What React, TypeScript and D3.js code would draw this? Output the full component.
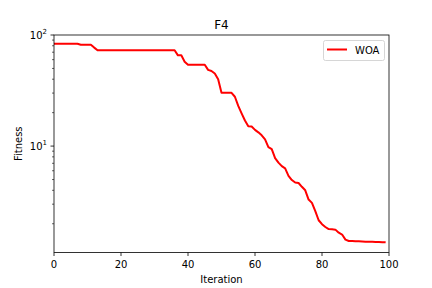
import React from "react";
import * as d3 from "d3";

const title = "F4";
const xLabel = "Iteration";
const yLabel = "Fitness";
const seriesName = "WOA";
const xTicks = [0, 20, 40, 60, 80, 100];
const yMajorTicks = [10, 100];
const yMajorLabels = ["1", "2"];
const yMinorTicks = [2, 3, 4, 5, 6, 7, 8, 9, 20, 30, 40, 50, 60, 70, 80, 90];
const xDomain = [0, 100];
const yDomain = [1.102, 100];

const woa = [
  83.5, 83.5, 83.5, 83.5, 83.5, 83.5, 83.5, 83.5, 81.8, 81.8,
  81.8, 81.8, 77.0, 72.8, 72.8, 72.8, 72.8, 72.8, 72.8, 72.8,
  72.8, 72.8, 72.8, 72.8, 72.8, 72.8, 72.8, 72.8, 72.8, 72.8,
  72.8, 72.8, 72.8, 72.8, 72.8, 72.8, 72.8, 65.6, 65.6, 57.5,
  54.0, 54.0, 54.0, 54.0, 54.0, 54.0, 48.5, 47.4, 45.0, 40.0,
  30.2, 30.2, 30.2, 30.2, 27.8, 23.0, 19.7, 17.0, 15.1, 15.0,
  14.0, 13.3, 12.5, 11.5, 9.8, 9.4, 7.8, 7.1, 6.6, 6.3,
  5.4, 4.95, 4.7, 4.65, 4.3, 4.0, 3.3, 3.08, 2.6, 2.15,
  1.98, 1.87, 1.79, 1.78, 1.77, 1.66, 1.6, 1.44, 1.40, 1.40,
  1.39, 1.39, 1.385, 1.38, 1.38, 1.375, 1.37, 1.37, 1.365, 1.36,
];

export default function App() {
  const W = 432, H = 288;
  const left = 54, right = 389, top = 35, bottom = 252.5;
  const x = d3.scaleLinear().domain(xDomain).range([left, right]);
  const y = d3.scaleLog().domain(yDomain).range([bottom, top]);
  const line = d3.line<number>().x((_, i) => x(i)).y((d) => y(d));
  const font = "DejaVu Sans, sans-serif";
  return (
    <svg width={W} height={H} style={{ position: "absolute", left: 0, top: 0 }} fontFamily={font}>
      <rect x={0} y={0} width={W} height={H} fill="white" />
      <defs>
        <clipPath id="clip">
          <rect x={left} y={top} width={right - left} height={bottom - top} />
        </clipPath>
      </defs>
      <path d={line(woa) ?? ""} fill="none" stroke="#ff0000" strokeWidth={2} strokeLinejoin="round" clipPath="url(#clip)" />
      <rect x={left} y={top} width={right - left} height={bottom - top} fill="none" stroke="black" strokeWidth={0.8} />
      {xTicks.map((t) => (
        <g key={"x" + t}>
          <line x1={x(t)} x2={x(t)} y1={bottom} y2={bottom + 3.5} stroke="black" strokeWidth={0.8} />
          <text x={x(t)} y={bottom + 15.5} fontSize={10} textAnchor="middle">{t}</text>
        </g>
      ))}
      {yMajorTicks.map((t, i) => (
        <g key={"y" + t}>
          <line x1={left - 3.5} x2={left} y1={y(t)} y2={y(t)} stroke="black" strokeWidth={0.8} />
          <text x={left - 7} y={y(t) + 3.5} fontSize={10} textAnchor="end">
            10<tspan fontSize={7} dy={-4.5}>{yMajorLabels[i]}</tspan>
          </text>
        </g>
      ))}
      {yMinorTicks.map((t) => (
        <line key={"m" + t} x1={left - 2} x2={left} y1={y(t)} y2={y(t)} stroke="black" strokeWidth={0.6} />
      ))}
      <text x={(left + right) / 2} y={top - 6} fontSize={12} textAnchor="middle">{title}</text>
      <text x={(left + right) / 2} y={283} fontSize={10} textAnchor="middle">{xLabel}</text>
      <text transform={`translate(22,${(top + bottom) / 2}) rotate(-90)`} fontSize={10} textAnchor="middle">{yLabel}</text>
      <rect x={323.5} y={40.5} width={61} height={20} rx={2} fill="white" fillOpacity={0.8} stroke="#cccccc" strokeWidth={0.8} />
      <line x1={327} x2={347} y1={49.5} y2={49.5} stroke="#ff0000" strokeWidth={2} />
      <text x={355} y={53.5} fontSize={10}>{seriesName}</text>
    </svg>
  );
}
